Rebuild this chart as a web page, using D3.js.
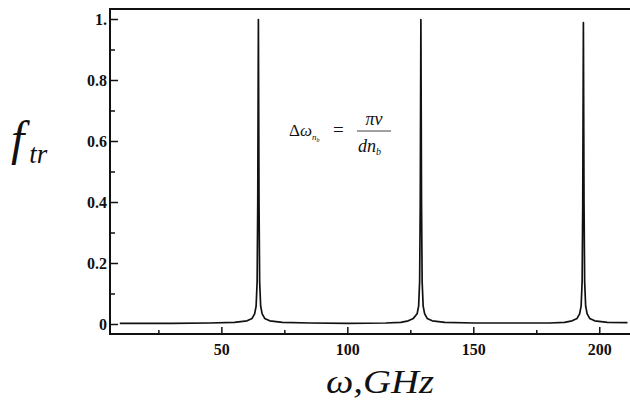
<!DOCTYPE html>
<html><head><meta charset="utf-8">
<script src="https://cdn.jsdelivr.net/npm/d3@7"></script>
<style>body{margin:0;background:#fff}svg{display:block}</style>
</head><body>
<svg id="c" width="630" height="401"></svg>
<script>
// Data
const omega = [9.5, 30, 45, 55, 60, 62, 63, 63.6, 64.0, 64.25, 64.5, 64.75, 65.0, 65.4, 66, 67, 69, 74, 85,
  100, 115, 121, 124, 126, 127.5, 128.1, 128.5, 128.75, 129.0, 129.25, 129.5, 129.9, 130.5, 131.5, 133.5, 138.5, 150,
  165, 180, 186, 189, 191, 192, 192.6, 193.0, 193.25, 193.5, 193.75, 194.0, 194.4, 195, 196, 198, 203, 211];
const ftr = [0.004, 0.004, 0.005, 0.007, 0.012, 0.02, 0.035, 0.06, 0.14, 0.4, 1.0, 0.4, 0.14, 0.06, 0.035, 0.02, 0.012, 0.007, 0.005,
  0.004, 0.005, 0.007, 0.012, 0.02, 0.035, 0.06, 0.14, 0.4, 1.0, 0.4, 0.14, 0.06, 0.035, 0.02, 0.012, 0.007, 0.005,
  0.005, 0.005, 0.007, 0.012, 0.02, 0.035, 0.06, 0.14, 0.4, 0.99, 0.4, 0.14, 0.06, 0.035, 0.02, 0.012, 0.007, 0.006];
const xTicks = [50, 100, 150, 200];
const xMinor = [25, 75, 125, 175];
const yTicks = [0, 0.2, 0.4, 0.6, 0.8, 1.0];
const yTickLabels = ["0", "0.2", "0.4", "0.6", "0.8", "1."];
const yMinor = [0.1, 0.3, 0.5, 0.7, 0.9];

(function () {
const svg = d3.select("#c");
const L = 110, R = 630, T = 9, B = 334;
const x = d3.scaleLinear().domain([5.6, 212]).range([110, 630]);
const y = d3.scaleLinear().domain([0, 1]).range([324.5, 19.5]);
const serif = "'Liberation Serif','Times New Roman',serif";

// curve
const pts = omega.map((o, i) => [o, ftr[i]]);
svg.append("path").datum(pts)
  .attr("d", d3.line().x(d => x(d[0])).y(d => y(d[1])))
  .attr("fill", "none").attr("stroke", "#111").attr("stroke-width", 1.7)
  .attr("stroke-linejoin", "round");

// frame
svg.append("line").attr("x1", L).attr("x2", R).attr("y1", T).attr("y2", T)
  .attr("stroke", "#111").attr("stroke-width", 2);
svg.append("line").attr("x1", L).attr("x2", R).attr("y1", B).attr("y2", B)
  .attr("stroke", "#111").attr("stroke-width", 2);
svg.append("line").attr("x1", L).attr("x2", L).attr("y1", T - 1).attr("y2", B + 1)
  .attr("stroke", "#111").attr("stroke-width", 2);

// y ticks
yTicks.forEach((t, i) => {
  svg.append("line").attr("x1", L).attr("x2", L + 8).attr("y1", y(t)).attr("y2", y(t))
    .attr("stroke", "#111").attr("stroke-width", 1.5);
  svg.append("text").attr("x", 107).attr("y", y(t) + 5.5).attr("text-anchor", "end")
    .attr("font-family", serif).attr("font-weight", "bold").attr("font-size", 16).attr("fill", "#111")
    .text(yTickLabels[i]);
});
yMinor.forEach(t => {
  svg.append("line").attr("x1", L).attr("x2", L + 5).attr("y1", y(t)).attr("y2", y(t))
    .attr("stroke", "#111").attr("stroke-width", 1.5);
});
// x ticks
xTicks.forEach(t => {
  svg.append("line").attr("x1", x(t)).attr("x2", x(t)).attr("y1", B).attr("y2", B - 7)
    .attr("stroke", "#111").attr("stroke-width", 1.5);
  svg.append("text").attr("x", x(t)).attr("y", 355).attr("text-anchor", "middle")
    .attr("font-family", serif).attr("font-weight", "bold").attr("font-size", 16).attr("fill", "#111")
    .text(t);
});
xMinor.forEach(t => {
  svg.append("line").attr("x1", x(t)).attr("x2", x(t)).attr("y1", B).attr("y2", B - 4)
    .attr("stroke", "#111").attr("stroke-width", 1.5);
});

// axis titles
const yl = svg.append("text").attr("x", 11).attr("y", 155).attr("font-family", serif)
  .attr("font-style", "italic").attr("fill", "#111");
yl.append("tspan").attr("font-size", 48).text("f");
yl.append("tspan").attr("font-size", 27).attr("dx", 5).attr("dy", 8).text("tr");

svg.append("text").attr("x", 326).attr("y", 393)
  .attr("font-family", serif).attr("font-style", "italic").attr("font-size", 33).attr("fill", "#111")
  .attr("textLength", 108).attr("lengthAdjust", "spacingAndGlyphs")
  .text("ω,GHz");

// formula
const f1 = svg.append("text").attr("x", 289).attr("y", 136).attr("font-family", serif)
  .attr("font-size", 17).attr("fill", "#111");
f1.append("tspan").text("Δ");
f1.append("tspan").attr("font-style", "italic").text("ω");
f1.append("tspan").attr("font-style", "italic").attr("font-size", 9).attr("dy", 4).text("n");
f1.append("tspan").attr("font-style", "italic").attr("font-size", 6).attr("dy", 2).text("b");
svg.append("text").attr("x", 333).attr("y", 136).attr("font-family", serif).attr("font-size", 19)
  .attr("fill", "#111").text("=");
svg.append("text").attr("x", 374).attr("y", 125).attr("text-anchor", "middle").attr("font-family", serif)
  .attr("font-style", "italic").attr("font-size", 18).attr("fill", "#111").text("πν");
svg.append("line").attr("x1", 357).attr("x2", 391).attr("y1", 131).attr("y2", 131)
  .attr("stroke", "#111").attr("stroke-width", 0.8);
const f2 = svg.append("text").attr("x", 358).attr("y", 152).attr("font-family", serif)
  .attr("font-style", "italic").attr("font-size", 18).attr("fill", "#111");
f2.append("tspan").text("dn");
f2.append("tspan").attr("font-size", 10).attr("dy", 3).text("b");
})();
</script>
</body></html>
